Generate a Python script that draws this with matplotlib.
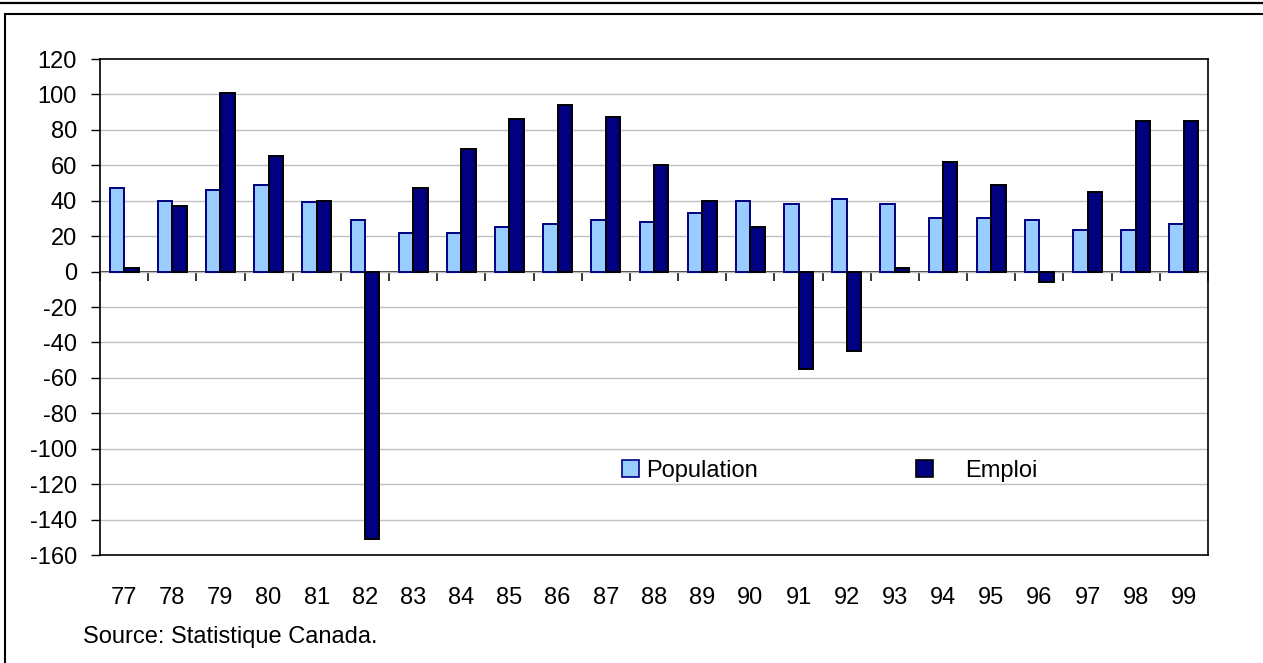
import matplotlib
matplotlib.use('Agg')
import matplotlib.pyplot as plt
import matplotlib.transforms as mtransforms
from matplotlib.patches import Patch, Rectangle
from matplotlib.lines import Line2D
import numpy as np

plt.rcParams['font.family'] = ['Liberation Sans', 'DejaVu Sans']

YEARS = ['77', '78', '79', '80', '81', '82', '83', '84', '85', '86', '87', '88',
         '89', '90', '91', '92', '93', '94', '95', '96', '97', '98', '99']
POPULATION = [47, 40, 46, 49, 39, 29, 22, 22, 25, 27, 29, 28,
              33, 40, 38, 41, 38, 30, 30, 29, 23.5, 23.5, 27]
EMPLOI = [2, 37, 101, 65, 40, -151, 47, 69, 86, 94, 87, 60,
          40, 25, -55, -45, 2, 62, 49, -6, 45, 85, 85]
YTICKS = list(range(-160, 121, 20))

YMIN, YMAX = -160, 120
FS = 17
POP_COLOR = '#99CCFF'
EMP_COLOR = '#000080'

fig = plt.figure(figsize=(12.63, 6.63), dpi=100)
W, H = 1263, 663

# outer frame and top rule
fig.add_artist(Line2D([0, 1], [1 - 3 / H, 1 - 3 / H], color='black', lw=1.6,
                      transform=fig.transFigure))
fig.add_artist(Rectangle((5 / W, -0.05), 1.2, 1 - 13.5 / H + 0.05, fill=False,
                         edgecolor='black', lw=1.5, transform=fig.transFigure))

ax = fig.add_axes([100 / W, 1 - 555 / H, 1108 / W, 496 / H])

x = np.arange(len(YEARS))
bw = 0.3
ax.bar(x - bw / 2, POPULATION, bw, color=POP_COLOR, edgecolor=EMP_COLOR, linewidth=1.4, zorder=3)
ax.bar(x + bw / 2, EMPLOI, bw, color=EMP_COLOR, edgecolor='black', linewidth=1.4, zorder=3)

ax.set_xlim(-0.5, len(YEARS) - 0.5)
ax.set_ylim(YMIN, YMAX)
ax.set_yticks(YTICKS)
ax.set_yticklabels([str(v) for v in YTICKS], fontsize=FS)
ax.tick_params(axis='y', length=6.5, width=1, pad=10, direction='out')
ax.tick_params(axis='x', bottom=False, labelbottom=False)
for v in YTICKS[1:-1]:
    ax.axhline(v, color='#C0C0C0', lw=1.0, zorder=1)
for s in ax.spines.values():
    s.set_linewidth(1.2)
    s.set_color('black')

# category axis sits at zero with ticks between categories, pointing down
sec = ax.secondary_xaxis((0 - YMIN) / (YMAX - YMIN))
sec.set_alignment('bottom')
sec.set_xticks(np.arange(len(YEARS) + 1) - 0.5)
sec.set_xticklabels([])
sec.tick_params(axis='x', length=6.5, width=1.1, direction='out', color='black')
sec.spines['bottom'].set_linewidth(1.1)
sec.spines['bottom'].set_color('black')

# year labels below the plot area
trans = mtransforms.blended_transform_factory(ax.transData, ax.transAxes)
for i, lab in enumerate(YEARS):
    ax.text(i, -49 / 496, lab, transform=trans, ha='center', va='baseline', fontsize=FS)

# legend (two pieces, spaced like the original)
h1 = Patch(facecolor=POP_COLOR, edgecolor=EMP_COLOR, linewidth=1.2)
h2 = Patch(facecolor=EMP_COLOR, edgecolor='black', linewidth=1.2)
leg1 = fig.legend([h1], ['Population'], loc='center left', bbox_to_anchor=(622 / W, 1 - 471 / H),
                  frameon=False, fontsize=FS, handlelength=0.72, handleheight=0.72,
                  handletextpad=0.3, borderpad=0, borderaxespad=0)
leg2 = fig.legend([h2], ['Emploi'], loc='center left', bbox_to_anchor=(916 / W, 1 - 471 / H),
                  frameon=False, fontsize=FS, handlelength=0.72, handleheight=0.72,
                  handletextpad=1.36, borderpad=0, borderaxespad=0)

fig.text(83 / W, 1 - 643 / H, 'Source: Statistique Canada.', fontsize=FS, va='baseline', ha='left')

fig.savefig('out.png', dpi=100)
